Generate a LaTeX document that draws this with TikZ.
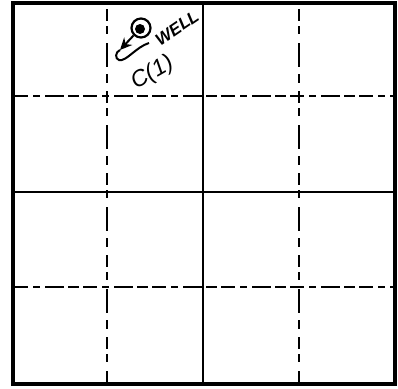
\documentclass[tikz,border=0pt]{standalone}
\usepackage{fontspec}
\setmainfont{Liberation Sans}
\usetikzlibrary{arrows.meta}
\tikzset{
  frameline/.style={line width=4.5pt,black},
  solidline/.style={line width=2.4pt,black},
  dashline/.style={line width=2.5pt,black,dash pattern=on 14pt off 5pt on 7pt off 5pt on 19pt off 4pt on 11pt off 4pt},
  dashvert/.style={line width=2.8pt,black,dash pattern=on 12pt off 5pt on 8pt off 9pt on 24pt off 7pt on 9pt off 8pt},
  hand/.style={inner sep=0pt,black}
}
\begin{document}
\begin{tikzpicture}[x=1pt,y=-1pt]
\useasboundingbox (0,0) rectangle (398,388);
\fill[white] (0,0) rectangle (398,388);
% inner lines
\draw[solidline] (13,192) -- (395,192);
\draw[solidline] (203,3) -- (203,384);
\draw[dashline] (14,96) -- (394,96);
\draw[dashline] (14,287) -- (394,287);
\draw[dashvert] (107,9) -- (107,384);
\draw[dashvert] (299,9) -- (299,384);
% frame
\draw[frameline] (13,3) rectangle (395,384);
% well symbol
\node[circle,draw=black,line width=2.2pt,minimum size=19pt,inner sep=0pt] (well) at (141,28) {};
\fill[black] (140,29) circle (5pt);
\node[hand,rotate=34,font=\itshape\bfseries\fontsize{17}{17}\selectfont] (welltext) at (177,28) {WELL};
\node[hand,rotate=30,font=\itshape\fontsize{23}{23}\selectfont] (cell) at (153,73) {C(1)};
\coordinate (arrowtip) at (120,50);
\coordinate (hookstart) at (149,43);
\draw[line width=2pt,black,-{Stealth[length=12pt,width=11pt]}] (well.225) -- (arrowtip);
\draw[line width=2pt,black] (hookstart) .. controls (136,47) and (126,62) .. (119,60)
  .. controls (115,59) and (115,52) .. (arrowtip);
\end{tikzpicture}
\end{document}
